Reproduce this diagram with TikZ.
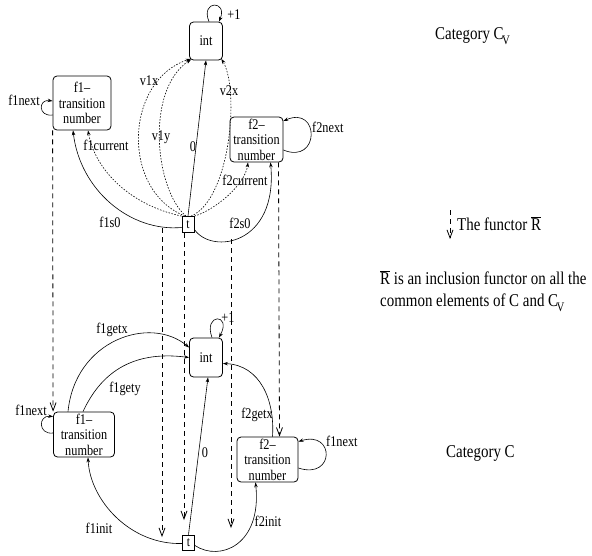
\documentclass[tikz,border=0pt]{standalone}
\usepackage{fontspec}
\setmainfont{Liberation Serif}[FakeStretch=0.83]
\usetikzlibrary{arrows.meta}
\begin{document}
\begin{tikzpicture}[x=1pt,y=-1pt,
  obj/.style={draw, rounded corners=4pt, line width=0.8pt, inner sep=0pt, align=center, font=\fontsize{14.8}{15.5}\selectfont},
  tbox/.style={draw, line width=0.8pt, inner sep=0pt, minimum width=12pt, minimum height=16pt, font=\fontsize{14}{14}\selectfont},
  lbl/.style={inner sep=0pt, font=\fontsize{14.8}{15}\selectfont},
  big/.style={inner sep=0pt, anchor=west, font=\fontsize{18}{20}\selectfont},
  arr/.style={line width=0.6pt, -{Stealth[length=5pt,width=3.5pt]}},
  dots/.style={arr, dash pattern=on 1.5pt off 1.5pt},
  functor/.style={line width=0.8pt, dash pattern=on 5pt off 4pt, -{Straight Barb[length=8pt,width=6pt]}},
  subv/.style={}
]
\path[use as bounding box] (0,0) rectangle (592,555);

% ---------- Category C_V (top) ----------
\node[obj, minimum width=33pt, minimum height=38pt] (intA) at (206,41) {int};
\node[obj, minimum width=58pt, minimum height=54pt] (f1A) at (82,103) {f1–\\transition\\number};
\node[obj, minimum width=53pt, minimum height=45pt] (f2A) at (256.5,139.5) {f2–\\transition\\number};
\node[tbox] (tA) at (188,224.5) {t};

\draw[arr] (tA.north) -- (intA.south);
\draw[dots] ([xshift=-3pt]tA.north) .. controls (120,190) and (125,80) .. ([shift={(1.5,-1.5)}]intA.south west);
\draw[dots] ([xshift=-2pt]tA.north) .. controls (155,190) and (145,90) .. ([shift={(2,-1)}]intA.south west);
\draw[dots] ([xshift=3pt]tA.north) .. controls (230,200) and (240,90) .. ([shift={(-1.5,-1.5)}]intA.south east);
\draw[dots] (tA.north west) .. controls (130,205) and (95,170) .. ([xshift=6pt]f1A.south);
\draw[arr] ([shift={(0,3)}]tA.west) .. controls (130,232) and (80,190) .. ([xshift=-9pt]f1A.south);
\draw[dots] (tA.north east) .. controls (215,210) and (245,185) .. ([xshift=-8.5pt]f2A.south);
\draw[arr] ([shift={(0,5)}]tA.east) .. controls (212,255) and (278,245) .. ([xshift=14pt]f2A.south);

\draw[arr] ([xshift=3pt]intA.north) .. controls (200,0) and (228,0) .. ([xshift=13pt]intA.north);
\draw[arr] ([shift={(0,12)}]f1A.west) .. controls (38,117) and (38,99) .. ([shift={(0,-2)}]f1A.west);
\draw[arr] ([shift={(0,10.5)}]f2A.east) .. controls (320,165) and (320,105) .. ([shift={(0,-18.5)}]f2A.east);

\node[lbl] (l0A) at (193,147) {0};
\node[lbl] (lv1x) at (149,81) {v1x};
\node[lbl] (lv1y) at (161,137) {v1y};
\node[lbl] (lv2x) at (229,91) {v2x};
\node[lbl] (lf1c) at (106,145) {f1current};
\node[lbl] (lf1s) at (110,222) {f1s0};
\node[lbl] (lf2c) at (245,180) {f2current};
\node[lbl] (lf2s) at (240,223) {f2s0};
\node[lbl] (lp1A) at (234,15) {+1};
\node[lbl] (lf1nA) at (24,100) {f1next};
\node[lbl, anchor=west] (lf2nA) at (312,127) {f2next};

% ---------- Category C (bottom) ----------
\node[obj, minimum width=33pt, minimum height=39pt] (intB) at (206,357.5) {int};
\node[obj, minimum width=61pt, minimum height=45pt] (f1B) at (84,434.5) {f1–\\transition\\number};
\node[obj, minimum width=61pt, minimum height=45pt] (f2B) at (267.5,459.5) {f2–\\transition\\number};
\node[tbox, minimum height=15pt] (tB) at (188.5,542.5) {t};

\draw[arr] (tB.north) -- ([xshift=2pt]intB.south);
\draw[arr] ([xshift=-16pt]f1B.north) .. controls (75,340) and (150,315) .. ([shift={(0,-10)}]intB.west);
\draw[arr] ([xshift=-1pt]f1B.north) .. controls (100,375) and (130,350) .. (intB.west);
\draw[arr] ([xshift=5pt]f2B.north) .. controls (275,400) and (260,365) .. ([shift={(0,6)}]intB.east);
\draw[arr] ([shift={(0,1)}]tB.west) .. controls (130,545) and (90,500) .. ([xshift=4pt]f1B.south);
\draw[arr] ([shift={(0,3)}]tB.east) .. controls (220,562) and (262,545) .. ([xshift=-12pt]f2B.south);

\draw[arr] ([xshift=6pt]intB.north) .. controls (203,313) and (232,313) .. ([xshift=13pt]intB.north);
\draw[arr] ([shift={(0,-1.5)}]f1B.west) .. controls (38,435) and (38,415) .. ([shift={(0,5)}]f1B.north west);
\draw[arr] ([shift={(0,8.5)}]f2B.east) .. controls (335,480) and (335,430) .. ([shift={(0,5)}]f2B.north east);

\node[lbl] (l0B) at (205,453) {0};
\node[lbl] (lgx) at (112,330) {f1getx};
\node[lbl] (lgy) at (125,389) {f1gety};
\node[lbl] (lf2g) at (257,415) {f2getx};
\node[lbl] (lf1i) at (99,528) {f1init};
\node[lbl] (lf2i) at (268,521) {f2init};
\node[lbl] (lp1B) at (228,318) {+1};
\node[lbl] (lf1nB) at (31,410) {f1next};
\node[lbl, anchor=west] (lf1nB2) at (326,441) {f1next};

% ---------- functor arrows ----------
\coordinate (fb1) at (162,228);
\coordinate (fb2) at (162,537);
\coordinate (fc2) at (184,520);
\coordinate (fd1) at (231,239);
\coordinate (fd2) at (231,528);
\draw[functor] (f1A.south west) -- (f1B.north west);
\draw[functor] (fb1) -- (fb2);
\draw[functor] ([xshift=-4pt]tA.south) -- (fc2);
\draw[functor] (fd1) -- (fd2);
\draw[functor] ([xshift=22pt]f2A.south) -- ([xshift=12pt]f2B.north);

% ---------- legend ----------
\node[big] (catCV) at (435,36) {Category C\kern-1.5pt\raisebox{-5pt}{\fontsize{13}{13}\selectfont V}};
\coordinate (lg1) at (450,210);
\coordinate (lg2) at (450,239);
\draw[functor] (lg1) -- (lg2);
\node[big] (legend) at (457,224) {The functor $\overline{\mbox{R}}$};
\node[big] (incl1) at (380,278) {$\overline{\mbox{R}}$ is an inclusion functor on all the};
\node[big] (incl2) at (380,303) {common elements of C and C\kern-1.5pt\raisebox{-5pt}{\fontsize{13}{13}\selectfont V}};
\node[big] (catC) at (446,453) {Category C};
\end{tikzpicture}
\end{document}
